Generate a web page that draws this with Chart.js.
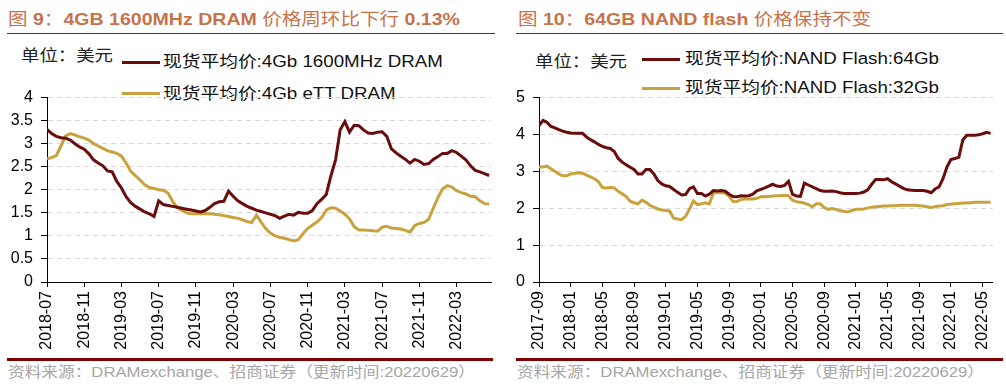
<!DOCTYPE html>
<html>
<head>
<meta charset="utf-8">
<script src="https://cdn.jsdelivr.net/npm/chart.js@4/dist/chart.umd.min.js"></script>
<style>
  body { margin: 0; background: #fff; width: 1006px; height: 389px; overflow: hidden; position: relative; font-family: "Liberation Sans", Arial, "Noto Sans CJK SC", sans-serif; }
  .t { position: absolute; white-space: nowrap; transform: scaleX(1.15); transform-origin: 0 50%; line-height: 1; }
  .title { color: #c8724b; font-size: 17px; font-weight: bold; }
  .title .cn { font-weight: normal; }
  .unit { font-size: 16px; color: #222; }
  .leg { font-size: 16.3px; color: #111; }
  .src { font-size: 14.5px; color: #a6a6a6; }
  .rule { position: absolute; height: 1px; background: #8b1a1a; }
  .foot { position: absolute; height: 3px; background: #7f0000; }
  .swatch { position: absolute; height: 3px; width: 38px; }
  canvas { position: absolute; }
</style>
</head>
<body>
<div class="t title" style="left:8px; top:11px;"><span class="cn">图</span> 9<span class="cn">：</span>4GB 1600MHz DRAM <span class="cn">价格周环比下行</span> 0.13%</div>
<div class="t title" style="left:518px; top:11px;"><span class="cn">图</span> 10<span class="cn">：</span>64GB NAND flash <span class="cn">价格保持不变</span></div>
<div class="rule" style="left:7px; top:33px; width:488px;"></div>
<div class="rule" style="left:516px; top:33px; width:487px;"></div>

<div class="t unit" style="left:21px; top:48px;">单位：美元</div>
<div class="swatch" style="left:122px; top:61px; background:#6b0c0c;"></div>
<div class="t leg" style="left:163px; top:53px;">现货平均价:4Gb 1600MHz DRAM</div>
<div class="swatch" style="left:122px; top:92px; background:#c9a23d;"></div>
<div class="t leg" style="left:163px; top:85px;">现货平均价:4Gb eTT DRAM</div>

<div class="t unit" style="left:535px; top:54px;">单位：美元</div>
<div class="swatch" style="left:642px; top:58px; background:#6b0c0c;"></div>
<div class="t leg" style="left:685px; top:50px;">现货平均价:NAND Flash:64Gb</div>
<div class="swatch" style="left:642px; top:87px; background:#c9a23d;"></div>
<div class="t leg" style="left:685px; top:79px;">现货平均价:NAND Flash:32Gb</div>

<canvas id="dramChart" width="500" height="280" style="left:0; top:80px;"></canvas>
<canvas id="nandChart" width="503" height="280" style="left:503px; top:80px;"></canvas>

<div class="foot" style="left:7px; top:358px; width:486px;"></div>
<div class="foot" style="left:516px; top:358px; width:487px;"></div>
<div class="t src" style="left:8px; top:365px;">资料来源：DRAMexchange、招商证券（更新时间:20220629）</div>
<div class="t src" style="left:517px; top:365px;">资料来源：DRAMexchange、招商证券（更新时间:20220629）</div>

<script>
// half-month samples, first one at the start month
const dramStart = [2018, 7];
const dram1600 = [3.31, 3.22, 3.16, 3.13, 3.12, 3.08, 3.00, 2.93, 2.88, 2.78,
  2.65, 2.58, 2.52, 2.41, 2.39, 2.18, 2.04, 1.85, 1.72, 1.64,
  1.58, 1.52, 1.48, 1.42, 1.76, 1.68, 1.66, 1.64, 1.62, 1.60,
  1.58, 1.56, 1.54, 1.52, 1.55, 1.62, 1.70, 1.74, 1.75, 1.97,
  1.86, 1.76, 1.70, 1.64, 1.60, 1.56, 1.53, 1.50, 1.47, 1.44,
  1.38, 1.43, 1.47, 1.45, 1.51, 1.49, 1.49, 1.55, 1.70, 1.79,
  1.90, 2.30, 2.65, 3.30, 3.48, 3.25, 3.40, 3.39, 3.30, 3.23,
  3.22, 3.25, 3.26, 3.16, 2.89, 2.80, 2.73, 2.66, 2.58, 2.66,
  2.62, 2.55, 2.57, 2.66, 2.72, 2.79, 2.79, 2.85, 2.81, 2.73,
  2.65, 2.52, 2.42, 2.39, 2.35, 2.31];
const dramEtt = [2.67, 2.70, 2.74, 2.95, 3.17, 3.22, 3.19, 3.15, 3.12, 3.08,
  3.00, 2.95, 2.90, 2.85, 2.82, 2.79, 2.73, 2.58, 2.40, 2.31,
  2.21, 2.11, 2.05, 2.03, 2.00, 1.99, 1.93, 1.75, 1.61, 1.55,
  1.50, 1.48, 1.48, 1.48, 1.48, 1.48, 1.47, 1.46, 1.44, 1.42,
  1.40, 1.38, 1.35, 1.31, 1.29, 1.45, 1.30, 1.16, 1.06, 1.00,
  0.97, 0.95, 0.92, 0.89, 0.92, 1.05, 1.16, 1.23, 1.30, 1.40,
  1.56, 1.61, 1.60, 1.54, 1.47, 1.37, 1.20, 1.13, 1.13, 1.12,
  1.11, 1.10, 1.19, 1.21, 1.17, 1.16, 1.15, 1.12, 1.08, 1.22,
  1.27, 1.29, 1.36, 1.60, 1.83, 2.02, 2.09, 2.06, 1.98, 1.94,
  1.91, 1.86, 1.85, 1.76, 1.70, 1.69];

const nandStart = [2017, 9];
const nand64 = [4.24, 4.38, 4.33, 4.22, 4.18, 4.13, 4.09, 4.06, 4.04, 4.03,
  4.03, 4.03, 3.93, 3.86, 3.80, 3.73, 3.68, 3.64, 3.62, 3.54,
  3.35, 3.25, 3.18, 3.11, 3.05, 2.93, 2.93, 3.05, 3.05, 2.93,
  2.75, 2.66, 2.61, 2.59, 2.51, 2.43, 2.36, 2.37, 2.53, 2.58,
  2.40, 2.40, 2.33, 2.38, 2.48, 2.47, 2.48, 2.46, 2.38, 2.32,
  2.31, 2.34, 2.33, 2.34, 2.38, 2.47, 2.51, 2.55, 2.60, 2.65,
  2.60, 2.59, 2.62, 2.73, 2.38, 2.33, 2.32, 2.68, 2.63, 2.58,
  2.53, 2.48, 2.46, 2.46, 2.47, 2.45, 2.42, 2.40, 2.40, 2.40,
  2.40, 2.41, 2.44, 2.50, 2.65, 2.78, 2.78, 2.77, 2.80, 2.72,
  2.66, 2.60, 2.54, 2.50, 2.49, 2.48, 2.48, 2.48, 2.46, 2.42,
  2.52, 2.58, 2.80, 3.12, 3.32, 3.35, 3.38, 3.85, 3.98, 3.98,
  3.98, 3.99, 4.02, 4.06, 4.03];
const nand32 = [3.12, 3.12, 3.14, 3.07, 3.00, 2.93, 2.88, 2.88, 2.93, 2.95,
  2.96, 2.95, 2.90, 2.85, 2.80, 2.72, 2.56, 2.55, 2.56, 2.55,
  2.46, 2.39, 2.32, 2.19, 2.15, 2.12, 2.22, 2.16, 2.08, 2.03,
  1.98, 1.95, 1.94, 1.92, 1.73, 1.71, 1.69, 1.78, 1.98, 2.20,
  2.10, 2.12, 2.15, 2.12, 2.40, 2.43, 2.42, 2.41, 2.32, 2.18,
  2.18, 2.24, 2.25, 2.25, 2.25, 2.27, 2.31, 2.31, 2.32, 2.33,
  2.34, 2.34, 2.35, 2.34, 2.22, 2.18, 2.16, 2.14, 2.10, 2.04,
  2.12, 2.12, 2.02, 1.97, 1.99, 1.97, 1.93, 1.92, 1.90, 1.94,
  1.97, 1.97, 1.98, 2.01, 2.03, 2.04, 2.05, 2.06, 2.06, 2.07,
  2.07, 2.08, 2.08, 2.08, 2.08, 2.08, 2.07, 2.06, 2.04, 2.02,
  2.04, 2.06, 2.07, 2.10, 2.11, 2.12, 2.13, 2.14, 2.14, 2.15,
  2.16, 2.16, 2.16, 2.16, 2.16];

const darkRed = "#6b0c0c";
const gold = "#c9a23d";
const tickFont = { family: "'Liberation Sans', Arial, sans-serif", size: 16 };

const toPoints = (vals) => vals.map((v, i) => ({ x: i / 2, y: v }));

const monthLabel = (start, m) => {
    const total = start[0] * 12 + (start[1] - 1) + m;
    const y = Math.floor(total / 12);
    const mo = total % 12 + 1;
    return y + "-" + (mo < 10 ? "0" + mo : mo);
};

const makeChart = (id, start, series, xMax, yMax, yStep, yWidth, padRight) => {
    new Chart(document.getElementById(id), {
        type: "line",
        data: {
            datasets: series.map((s) => ({
                data: toPoints(s.values),
                borderColor: s.color,
                borderWidth: 3,
                pointRadius: 0,
                tension: 0,
                fill: false,
            })),
        },
        options: {
            responsive: false,
            animation: false,
            layout: { padding: { top: 8, right: padRight, left: 0, bottom: 0 } },
            plugins: { legend: { display: false }, tooltip: { enabled: false } },
            scales: {
                x: {
                    type: "linear",
                    min: 0,
                    max: xMax,
                    afterFit: (scale) => { scale.height = 78; },
                    border: { color: "#000", width: 1 },
                    grid: { drawOnChartArea: false, drawTicks: true, tickLength: 5, tickColor: "#000" },
                    ticks: {
                        stepSize: 4,
                        includeBounds: false,
                        autoSkip: false,
                        minRotation: 90,
                        maxRotation: 90,
                        padding: 4,
                        color: "#000",
                        font: tickFont,
                        callback: (v) => monthLabel(start, v),
                    },
                },
                y: {
                    min: 0,
                    max: yMax,
                    afterFit: (scale) => { scale.width = yWidth; },
                    border: { color: "#000", width: 1, dash: [5, 4] },
                    grid: {
                        color: (ctx) => (ctx.tick && ctx.tick.value === 0 ? "rgba(0,0,0,0)" : "#d9d9d9"),
                        lineWidth: 1,
                        tickLength: 6,
                        tickColor: "#000",
                        tickBorderDash: [1, 0],
                    },
                    ticks: {
                        stepSize: yStep,
                        padding: 8,
                        color: "#000",
                        font: tickFont,
                        callback: (v) => String(v),
                    },
                },
            },
        },
    });
};

makeChart("dramChart", dramStart,
    [{ values: dram1600, color: darkRed }, { values: dramEtt, color: gold }],
    47.7, 4, 0.5, 47, 9);

makeChart("nandChart", nandStart,
    [{ values: nand64, color: darkRed }, { values: nand32, color: gold }],
    57.3, 5, 1, 36, 9);
</script>
</body>
</html>
